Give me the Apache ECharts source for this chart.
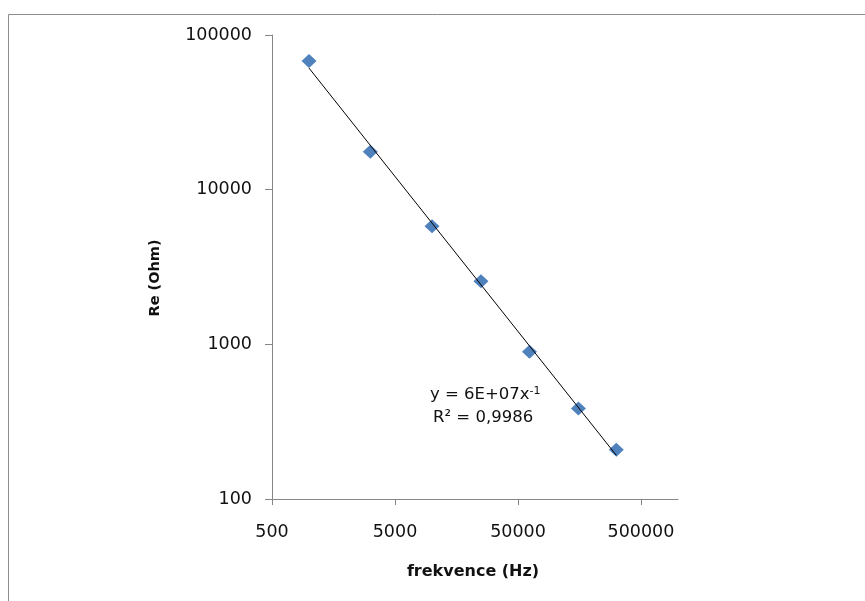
<!DOCTYPE html>
<html>
<head>
<meta charset="utf-8">
<script src="https://cdn.jsdelivr.net/npm/echarts@6/dist/echarts.min.js"></script>
<style>html,body{margin:0;padding:0;background:#fff;}#c{width:865px;height:601px;}</style>
</head>
<body>
<div id="c"></div>
<script>
// Data
const freqHz = [1000, 3150, 10000, 25000, 62000, 155000, 315000];
const reOhm  = [67900, 17600, 5810, 2560, 896, 385, 208];
const xTicks = [500, 5000, 50000, 500000];
const yTicks = [100, 1000, 10000, 100000];
const eqLine1 = 'y = 6E+07x';
const eqExp = '-1';
const eqLine2 = 'R² = 0,9986';

// power-law trendline (least squares in log space) over data range
const lx = freqHz.map(Math.log10), ly = reOhm.map(Math.log10);
const n = lx.length;
const mx = lx.reduce((a,b)=>a+b,0)/n, my = ly.reduce((a,b)=>a+b,0)/n;
let sxy=0,sxx=0; for(let i=0;i<n;i++){sxy+=(lx[i]-mx)*(ly[i]-my);sxx+=(lx[i]-mx)**2;}
const b = sxy/sxx, a = my - b*mx;
const xmin = Math.min(...freqHz), xmax = Math.max(...freqHz);
const trend = [xmin, xmax].map(x => [x, Math.pow(10, a + b*Math.log10(x))]);

const chart = echarts.init(document.getElementById('c'));
const axisCol = '#868686';
const txt = '#111';
chart.setOption({
  animation: false,
  backgroundColor: '#fff',
  grid: {left: 272, top: 35, right: 187, bottom: 102},
  xAxis: {
    type: 'log', logBase: 10, min: 500, max: 1000000,
    axisLine: {lineStyle: {color: axisCol, width: 1}},
    axisTick: {show: true, length: 6, inside: false, customValues: xTicks, lineStyle: {color: axisCol}},
    axisLabel: {customValues: xTicks, margin: 24, color: txt, fontFamily: 'DejaVu Sans', fontSize: 17.5,
      formatter: v => String(Math.round(v))},
    splitLine: {show: false}, minorTick: {show: false}
  },
  yAxis: {
    type: 'log', logBase: 10, min: 100, max: 100000,
    axisLine: {show: true, lineStyle: {color: axisCol, width: 1}},
    axisTick: {show: true, length: 7, inside: false, lineStyle: {color: axisCol}},
    axisLabel: {margin: 20, color: txt, fontFamily: 'DejaVu Sans', fontSize: 17.5,
      formatter: v => String(Math.round(v))},
    splitLine: {show: false}
  },
  series: [
    {type: 'line', data: trend, symbol: 'none', lineStyle: {color: '#000', width: 1}, z: 3, silent: true},
    {type: 'scatter', data: freqHz.map((x,i)=>[x, reOhm[i]]), symbol: 'diamond', symbolSize: [15, 14],
      itemStyle: {color: '#4F81BD', opacity: 1}, z: 2}
  ],
  graphic: [
    {type: 'rect', shape: {x: 8.5, y: 14.5, width: 900, height: 700}, style: {fill: 'none', stroke: '#8c8c8c', lineWidth: 1}, z: -1, silent: true},
    {type: 'text', x: 155.5, y: 278, rotation: Math.PI/2,
      style: {text: 'Re (Ohm)', fontFamily: 'DejaVu Sans', fontWeight: 'bold', fontSize: 14.5, fill: txt, align: 'center', verticalAlign: 'middle'}},
    {type: 'text', x: 473, y: 572,
      style: {text: 'frekvence (Hz)', fontFamily: 'DejaVu Sans', fontWeight: 'bold', fontSize: 16, fill: txt, align: 'center', verticalAlign: 'middle'}},
    {type: 'text', x: 430, y: 395,
      style: {text: '{n|' + eqLine1 + '}{s|' + eqExp + '}', verticalAlign: 'middle', align: 'left',
        rich: {n: {fontFamily: 'DejaVu Sans', fontSize: 16.5, fill: txt}, s: {fontFamily: 'DejaVu Sans', fontSize: 11, fill: txt, verticalAlign: 'top', padding: [0,0,8,0]}}}},
    {type: 'text', x: 433, y: 418,
      style: {text: eqLine2, fontFamily: 'DejaVu Sans', fontSize: 16.5, fill: txt, align: 'left', verticalAlign: 'middle'}}
  ]
});
</script>
</body>
</html>
